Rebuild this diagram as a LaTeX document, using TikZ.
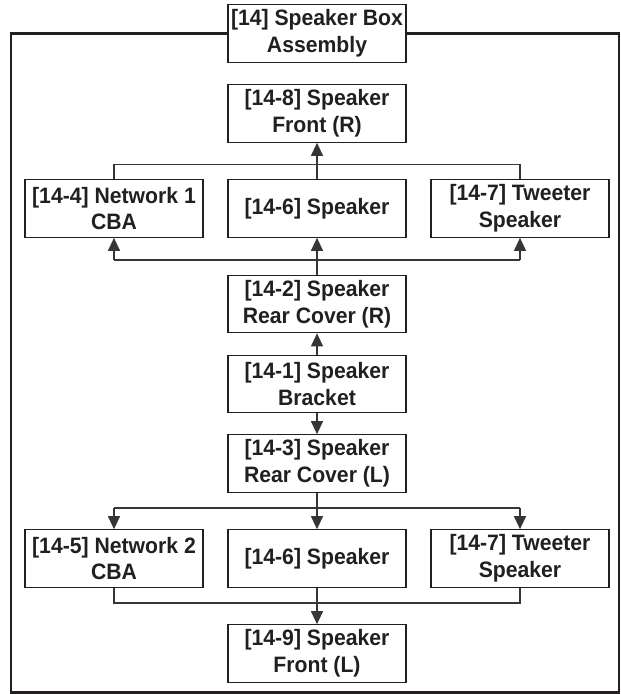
\documentclass[tikz,border=0pt]{standalone}
\usepackage{fontspec}
\setmainfont{Liberation Sans}[FakeStretch=0.95]
\usetikzlibrary{arrows.meta}
\definecolor{ink}{HTML}{231F20}
\begin{document}
\begin{tikzpicture}[x=1pt,y=-1pt,
  part/.style={draw=ink,line width=1.2pt,fill=white,minimum width=178pt,
    minimum height=57.5pt,inner sep=0pt,align=center,text=ink,
    font=\fontsize{22.3}{26.7}\selectfont\bfseries},
  link/.style={draw=ink!90,line width=1.2pt},
  arr/.style={link,-{Triangle[width=12pt,length=13pt]}}]
\useasboundingbox (0,0) rectangle (621,694);
% outer frame of the assembly
\draw[ink,line width=2.3pt] (11,33.5) rectangle (619,692.5);
\node[part] (asm) at (317,33.5) {[14] Speaker Box\\Assembly};
% right side
\node[part] (fr) at (317,113.5) {[14-8] Speaker\\Front (R)};
\node[part] (nw1) at (114,208.5) {[14-4] Network 1\\CBA};
\node[part] (spr) at (317,208.5) {[14-6] Speaker};
\node[part] (twr) at (520,208.5) {[14-7] Tweeter\\Speaker};
\node[part] (rcr) at (317,304) {[14-2] Speaker\\Rear Cover (R)};
% bracket
\node[part] (brk) at (317,384) {[14-1] Speaker\\Bracket};
% left side
\node[part] (rcl) at (317,463.5) {[14-3] Speaker\\Rear Cover (L)};
\node[part] (nw2) at (114,558.5) {[14-5] Network 2\\CBA};
\node[part] (spl) at (317,558.5) {[14-6] Speaker};
\node[part] (twl) at (520,558.5) {[14-7] Tweeter\\Speaker};
\node[part] (fl) at (317,653.5) {[14-9] Speaker\\Front (L)};
% junction levels
\coordinate (ja) at (317,164.5);
\coordinate (jb) at (317,260);
\coordinate (jc) at (317,508);
\coordinate (jd) at (317,603);
% connectors, upper half
\draw[link] (nw1.north) |- (ja) -| (twr.north);
\draw[arr] (spr.north) -- (fr.south);
\draw[arr] (rcr.north) -- (spr.south);
\draw[link] (nw1.south |- jb) -- (twr.south |- jb);
\draw[arr] (nw1.south |- jb) -- (nw1.south);
\draw[arr] (twr.south |- jb) -- (twr.south);
\draw[arr] (brk.north) -- (rcr.south);
% connectors, lower half
\draw[arr] (brk.south) -- (rcl.north);
\draw[link] (rcl.south) -- (jc);
\draw[link] (nw2.north |- jc) -- (twl.north |- jc);
\draw[arr] (nw2.north |- jc) -- (nw2.north);
\draw[arr] (jc) -- (spl.north);
\draw[arr] (twl.north |- jc) -- (twl.north);
\draw[link] (nw2.south) |- (jd) -| (twl.south);
\draw[arr] (spl.south) -- (fl.north);
\end{tikzpicture}
\end{document}
